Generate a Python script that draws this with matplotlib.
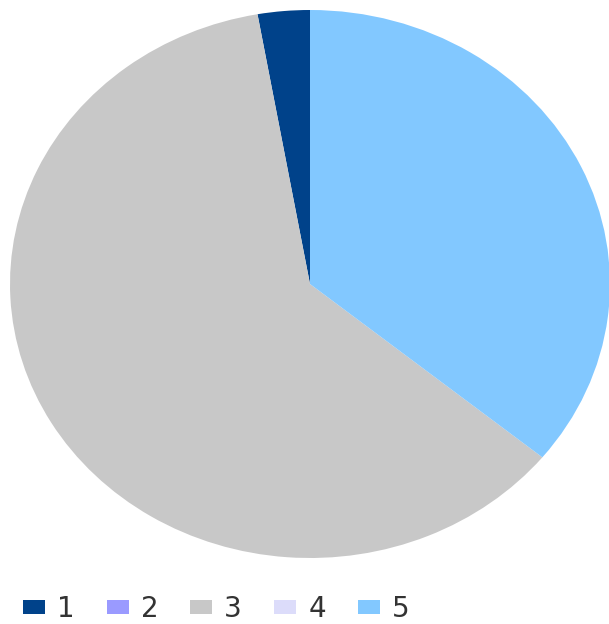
import matplotlib.pyplot as plt
from matplotlib.patches import Patch

labels = ['1', '2', '3', '4', '5']
values = [2.8, 0.0, 61.3, 0.0, 35.9]
colors = ['#00428a', '#9a9aff', '#c8c8c8', '#dcdcfa', '#82c8ff']

fig = plt.figure(figsize=(6.09, 6.24), dpi=100)

# pie area is stretched a bit wider than tall
ax = fig.add_axes([10 / 609, 66 / 624, 600 / 609, 548 / 624])
ax.pie(values, colors=colors, startangle=90, counterclock=True,
       radius=1.0, wedgeprops=dict(linewidth=0))
ax.set_aspect('auto')
ax.set_xlim(-1, 1)
ax.set_ylim(-1, 1)
ax.axis('off')

handles = [Patch(facecolor=c, edgecolor='none') for c in colors]
leg = fig.legend(handles, labels, loc='center left',
                 bbox_to_anchor=(23 / 609, 15 / 624),
                 ncol=5, frameon=False, borderpad=0, borderaxespad=0,
                 handlelength=0.79, handleheight=0.43, handletextpad=0.43,
                 columnspacing=1.16,
                 prop={'family': 'DejaVu Sans', 'size': 20})
for t in leg.get_texts():
    t.set_color('#333333')

fig.savefig('out.png', dpi=100)
